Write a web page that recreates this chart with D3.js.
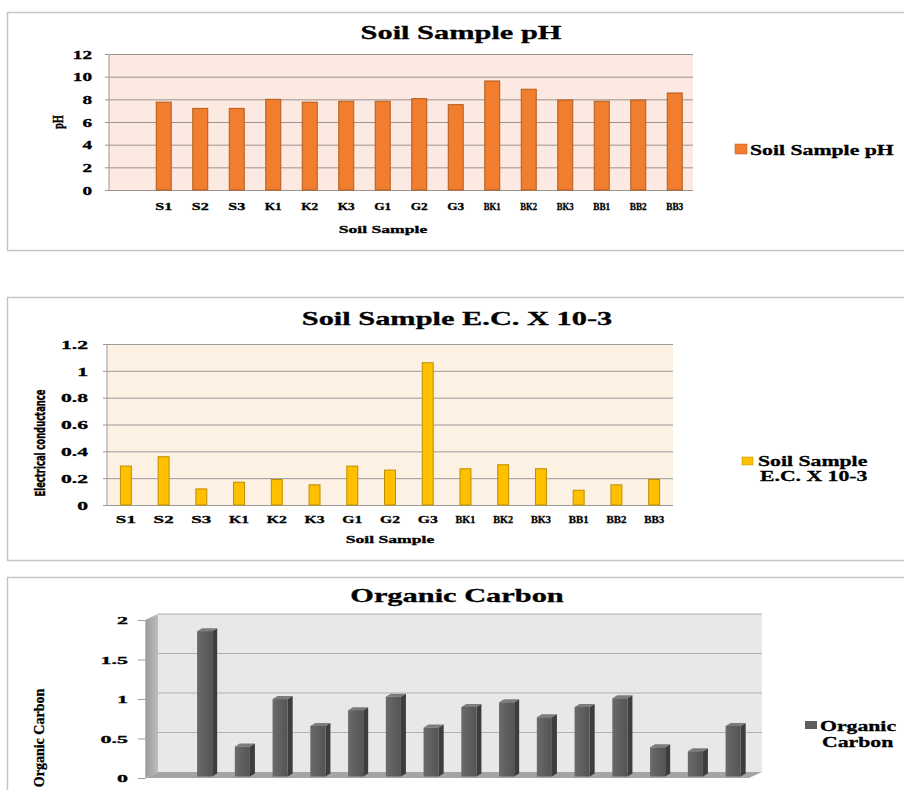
<!DOCTYPE html>
<html>
<head>
<meta charset="utf-8">
<script src="https://cdn.jsdelivr.net/npm/d3@7"></script>
<style>
  body { margin: 0; background: #fff; }
  text { font-family: "Liberation Serif", "Times New Roman", serif; font-weight: bold; fill: #000; stroke: #000; stroke-width: 0.3px; }
</style>
</head>
<body>
<div id="chart"></div>
<script>
// data
var samples = ["S1", "S2", "S3", "K1", "K2", "K3", "G1", "G2", "G3", "BK1", "BK2", "BK3", "BB1", "BB2", "BB3"];
var phValues = [7.75, 7.2, 7.2, 8.0, 7.75, 7.83, 7.83, 8.06, 7.53, 9.62, 8.89, 7.94, 7.83, 7.94, 8.56];
var ecValues = [0.29, 0.36, 0.12, 0.17, 0.19, 0.15, 0.29, 0.26, 1.06, 0.27, 0.30, 0.27, 0.11, 0.15, 0.19];
var ocValues = [1.84, 0.38, 0.98, 0.64, 0.84, 1.01, 0.62, 0.88, 0.94, 0.75, 0.88, 0.99, 0.37, 0.32, 0.64];
var phTicks = [0, 2, 4, 6, 8, 10, 12];
var ecTicks = [0, 0.2, 0.4, 0.6, 0.8, 1, 1.2];
var ocTicks = [0, 0.5, 1, 1.5, 2];

var svg = d3.select("#chart").append("svg")
    .attr("width", 904)
    .attr("height", 790);

// the picture is stretched sideways, so text gets a horizontal scale
function label(str, x, y, size, anchor, sx) {
  return svg.append("text")
    .attr("transform", "translate(" + x + "," + y + ") scale(" + sx + ",1)")
    .attr("text-anchor", anchor)
    .style("font-size", size + "px")
    .text(str);
}

function frame(y, h) {
  svg.append("rect")
    .attr("x", 7.5).attr("y", y)
    .attr("width", 920).attr("height", h)
    .attr("fill", "none")
    .attr("stroke", "#c6c6c6")
    .attr("stroke-width", 1.5);
}

function flatChart(o) {
  var x = d3.scaleBand()
    .domain(o.cats)
    .range([o.left, o.right])
    .paddingInner(o.pad)
    .paddingOuter(o.pad / 2);
  var y = d3.scaleLinear()
    .domain([0, d3.max(o.ticks)])
    .range([o.bottom, o.top]);

  svg.append("rect")
    .attr("x", o.left).attr("y", o.top)
    .attr("width", o.right - o.left).attr("height", o.bottom - o.top)
    .attr("fill", o.bg);

  // gridlines + little ticks + labels
  var yAxis = svg.append("g")
    .attr("transform", "translate(" + o.right + ",0)")
    .call(d3.axisLeft(y).tickValues(o.ticks).tickFormat(function(d) { return d; })
      .tickSize(o.right - o.left + 4));
  yAxis.select(".domain").remove();
  yAxis.selectAll("line").attr("stroke", o.grid);
  yAxis.selectAll("text")
    .attr("x", 0).attr("dy", "0.36em")
    .attr("transform", "translate(" + (o.labelX - o.right) + ",0) scale(" + o.tickSX + ",1)")
    .style("font-size", o.tickSize + "px");

  svg.append("line")
    .attr("x1", o.left).attr("x2", o.left)
    .attr("y1", o.top).attr("y2", o.bottom)
    .attr("stroke", o.grid);

  var rows = samples.map(function(s, i) { return {cat: s, v: o.values[i]}; });
  svg.append("g").selectAll("rect")
    .data(rows)
    .join("rect")
      .attr("x", function(d) { return x(d.cat); })
      .attr("y", function(d) { return y(d.v); })
      .attr("width", x.bandwidth())
      .attr("height", function(d) { return y(0) - y(d.v); })
      .attr("fill", o.fill)
      .attr("stroke", o.stroke)
      .attr("stroke-width", 1);

  var xAxis = svg.append("g")
    .attr("transform", "translate(0," + o.xLabelY + ")")
    .call(d3.axisBottom(x).tickSize(0));
  xAxis.select(".domain").remove();
  xAxis.selectAll("text")
    .attr("y", 0).attr("dy", 0)
    .style("font-size", "11px")
    .filter(function(d) { return d !== ""; })
    .attr("textLength", o.xLabelLen)
    .attr("lengthAdjust", "spacingAndGlyphs");
}

// ---------- Soil Sample pH ----------
frame(12.5, 238);
label("Soil Sample pH", 461, 39, 19, "middle", 1.6);
flatChart({
  cats: [""].concat(samples), values: phValues, ticks: phTicks,
  left: 109, right: 693, top: 54, bottom: 190, pad: 0.59,
  labelX: 92, tickSX: 1.6, tickSize: 12, xLabelY: 210, xLabelLen: 17,
  bg: "#fbe9e2", grid: "#9d928d", fill: "#f07e2e", stroke: "#b4591b"
});
label("Soil Sample", 383, 233, 11, "middle", 1.6);
svg.append("text")
  .attr("transform", "translate(63,122) rotate(-90) scale(1,1.5)")
  .attr("text-anchor", "middle")
  .style("font-size", "10px")
  .text("pH");
svg.append("rect").attr("x", 735).attr("y", 144).attr("width", 12).attr("height", 10)
  .attr("fill", "#f07e2e").attr("stroke", "#b4591b").attr("stroke-width", 0.5);
label("Soil Sample pH", 750, 155, 14.5, "start", 1.5);

// ---------- Soil Sample E.C. ----------
frame(297.5, 263);
label("Soil Sample E.C. X 10-3", 457, 325, 19, "middle", 1.6);
flatChart({
  cats: samples, values: ecValues, ticks: ecTicks,
  left: 107, right: 673, top: 344, bottom: 505, pad: 0.71,
  labelX: 88, tickSX: 1.8, tickSize: 12, xLabelY: 523, xLabelLen: 20,
  bg: "#fdf1e4", grid: "#9a9a9a", fill: "#ffc000", stroke: "#bd8e00"
});
label("Soil Sample", 390, 543, 11, "middle", 1.6);
svg.append("text")
  .attr("transform", "translate(45,443) rotate(-90) scale(1,1.3)")
  .attr("text-anchor", "middle")
  .attr("textLength", 107)
  .attr("lengthAdjust", "spacingAndGlyphs")
  .style("font-family", "'Liberation Sans Narrow', 'DejaVu Sans Condensed', sans-serif")
  .style("font-size", "11px")
  .text("Electrical conductance");
svg.append("rect").attr("x", 742).attr("y", 457).attr("width", 11).attr("height", 8)
  .attr("fill", "#ffc000").attr("stroke", "#bd8e00").attr("stroke-width", 0.5);
label("Soil Sample", 758, 466, 14.5, "start", 1.5);
label("E.C. X 10-3", 760, 481, 14.5, "start", 1.5);

// ---------- Organic Carbon (3-D columns) ----------
frame(577.5, 240);
label("Organic Carbon", 457, 602, 19, "middle", 1.6);

var DX = 13, DY = -6;          // depth of the walls
var x3 = d3.scaleBand()
  .domain([""].concat(samples))
  .range([145, 749])
  .paddingInner(0.6)
  .paddingOuter(0.3);
var y3 = d3.scaleLinear().domain([0, 2]).range([778, 620]);

var defs = svg.append("defs");
var sideGrad = defs.append("linearGradient").attr("id", "sideWall");
sideGrad.append("stop").attr("offset", "0%").attr("stop-color", "#9a9a9a");
sideGrad.append("stop").attr("offset", "100%").attr("stop-color", "#bdbdbd");
var barGrad = defs.append("linearGradient").attr("id", "barFront");
barGrad.append("stop").attr("offset", "0%").attr("stop-color", "#6a6a6a");
barGrad.append("stop").attr("offset", "100%").attr("stop-color", "#545454");

var x0 = x3.range()[0], x1 = x3.range()[1];
var yTop = y3(2), yBot = y3(0);

// back wall
svg.append("rect")
  .attr("x", x0 + DX).attr("y", yTop + DY)
  .attr("width", x1 - x0).attr("height", yBot - yTop)
  .attr("fill", "#e8e8e8");
// side wall
svg.append("polygon")
  .attr("points", [[x0, yTop], [x0 + DX, yTop + DY], [x0 + DX, yBot + DY], [x0, yBot]].join(" "))
  .attr("fill", "url(#sideWall)");
// floor
svg.append("polygon")
  .attr("points", [[x0, yBot], [x0 + DX, yBot + DY], [x1 + DX, yBot + DY], [x1, yBot]].join(" "))
  .attr("fill", "#a4a4a4");

svg.append("g").selectAll("line")
  .data(ocTicks.slice(1))
  .join("line")
    .attr("x1", x0 + DX).attr("x2", x1 + DX)
    .attr("y1", function(d) { return y3(d) + DY; })
    .attr("y2", function(d) { return y3(d) + DY; })
    .attr("stroke", "#b0b0b0")
    .attr("stroke-width", 1.2);

var yAxis3 = svg.append("g")
  .attr("transform", "translate(" + x0 + ",0)")
  .call(d3.axisLeft(y3).tickValues(ocTicks).tickFormat(function(d) { return d; }).tickSize(7));
yAxis3.select(".domain").attr("stroke", "#b8b8b8");
yAxis3.selectAll("line").attr("stroke", "#9a9a9a");
yAxis3.selectAll("text")
  .attr("x", 0).attr("dy", "0.36em")
  .attr("transform", "translate(-17,0) scale(2,1)")
  .style("font-size", "11px");

var FX = 3, FY = -1.5, BD = 5, BH = -3;   // bar placement inside the depth
var ocRows = samples.map(function(s, i) { return {cat: s, v: ocValues[i]}; });
var bars3 = svg.append("g").selectAll("g")
  .data(ocRows)
  .join("g");
bars3.append("polygon")
  .attr("points", function(d) {
    var l = x3(d.cat) + FX, r = l + x3.bandwidth(), t = y3(d.v) + FY, b = y3(0) + FY;
    return [[r, t], [r + BD, t + BH], [r + BD, b + BH], [r, b]].join(" ");
  })
  .attr("fill", "#3d3d3d");
bars3.append("polygon")
  .attr("points", function(d) {
    var l = x3(d.cat) + FX, r = l + x3.bandwidth(), t = y3(d.v) + FY;
    return [[l, t], [l + BD, t + BH], [r + BD, t + BH], [r, t]].join(" ");
  })
  .attr("fill", "#7c7c7c");
bars3.append("rect")
  .attr("x", function(d) { return x3(d.cat) + FX; })
  .attr("y", function(d) { return y3(d.v) + FY; })
  .attr("width", x3.bandwidth())
  .attr("height", function(d) { return y3(0) - y3(d.v); })
  .attr("fill", "url(#barFront)");

svg.append("text")
  .attr("transform", "translate(44,738) rotate(-90)")
  .attr("text-anchor", "middle")
  .style("font-size", "14px")
  .text("Organic Carbon");
svg.append("rect").attr("x", 805).attr("y", 721).attr("width", 12).attr("height", 8)
  .attr("fill", "#5e5e5e");
label("Organic", 820, 731, 14.5, "start", 1.5);
label("Carbon", 822, 747, 14.5, "start", 1.5);
</script>
</body>
</html>
